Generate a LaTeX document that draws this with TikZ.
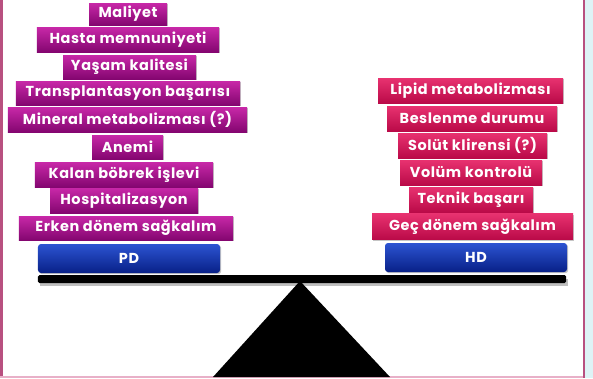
\documentclass[tikz,border=0pt]{standalone}
\usepackage{fontspec}
\setmainfont{Poppins}
\usetikzlibrary{shadows}
\definecolor{lmtop}{RGB}{200,40,168}
\definecolor{lmbot}{RGB}{132,6,112}
\definecolor{rmtop}{RGB}{232,50,112}
\definecolor{rmbot}{RGB}{186,10,72}
\definecolor{bltop}{RGB}{44,84,210}
\definecolor{blbot}{RGB}{8,32,135}
\definecolor{frame}{RGB}{184,80,128}
\definecolor{framelt}{RGB}{232,176,200}
\definecolor{cyanbg}{RGB}{222,243,246}
\tikzset{
  basebox/.style={rectangle, inner sep=0pt, text=white,
    font=\fontsize{14.5}{16}\selectfont\bfseries\addfontfeatures{LetterSpace=4},
    drop shadow={shadow xshift=1.2bp, shadow yshift=-1.2bp, opacity=0.45}},
  lbox/.style={basebox, top color=lmtop, bottom color=lmbot},
  rbox/.style={basebox, top color=rmtop, bottom color=rmbot},
  bbox/.style={basebox, top color=bltop, bottom color=blbot, rounded corners=3bp},
}
\begin{document}
\begin{tikzpicture}[x=1bp,y=-1bp]
\useasboundingbox (0,0) rectangle (593,378);
% frame
\fill[cyanbg] (584,0) rectangle (593,378);
\fill[white] (3,0) rectangle (583,376);
\draw[frame, line width=2.5bp] (1.5,0) -- (1.5,378);
\draw[frame, line width=2.5bp] (583.8,0) -- (583.8,378);
\draw[framelt, line width=2bp] (0,377) -- (582.5,377);
% left stack
\node[lbox, minimum width=78bp,  minimum height=22bp] (l1) at (128,14)    {Maliyet};
\node[lbox, minimum width=182bp, minimum height=25bp] (l2) at (128,39.5)  {Hasta memnuniyeti};
\node[lbox, minimum width=133bp, minimum height=24bp] (l3) at (129.5,67)  {Yaşam kalitesi};
\node[lbox, minimum width=224bp, minimum height=24bp] (l4) at (128,93)    {Transplantasyon başarısı};
\node[lbox, minimum width=239bp, minimum height=25bp] (l5) at (127.5,119.5) {Mineral metabolizması (?)};
\node[lbox, minimum width=71bp,  minimum height=24bp] (l6) at (127.5,147) {Anemi};
\node[lbox, minimum width=178bp, minimum height=25bp] (l7) at (124,174.5) {Kalan böbrek işlevi};
\node[lbox, minimum width=148bp, minimum height=25bp] (l8) at (124,200.5) {Hospitalizasyon};
\node[lbox, minimum width=214bp, minimum height=24bp] (l9) at (126,228)   {Erken dönem sağkalım};
\node[bbox, minimum width=182bp, minimum height=29bp] (pd) at (129,258.5) {PD};
% right stack
\node[rbox, minimum width=185bp, minimum height=25bp] (r1) at (470.5,90.5) {Lipid metabolizması};
\node[rbox, minimum width=170bp, minimum height=25bp] (r2) at (472,118.5)  {Beslenme durumu};
\node[rbox, minimum width=149bp, minimum height=25bp] (r3) at (472.5,145.5) {Solüt klirensi (?)};
\node[rbox, minimum width=142bp, minimum height=25bp] (r4) at (471,172.5)  {Volüm kontrolü};
\node[rbox, minimum width=124bp, minimum height=25bp] (r5) at (471,199.5)  {Teknik başarı};
\node[rbox, minimum width=201bp, minimum height=26bp] (r6) at (472.5,226.5) {Geç dönem sağkalım};
\node[bbox, minimum width=182bp, minimum height=29bp] (hd) at (476,257.5)  {HD};
% beam and fulcrum
\fill[black!25] (40,279) rectangle (568,286);
\node[rectangle, fill=black, rounded corners=1.5bp, inner sep=0pt,
      minimum width=528bp, minimum height=8bp] (beam) at (302,279) {};
\coordinate (apex) at (300,281);
\coordinate (bl) at (213,377);
\coordinate (br) at (390,377);
\fill[black] (apex) -- (br) -- (bl) -- cycle;
\end{tikzpicture}
\end{document}
